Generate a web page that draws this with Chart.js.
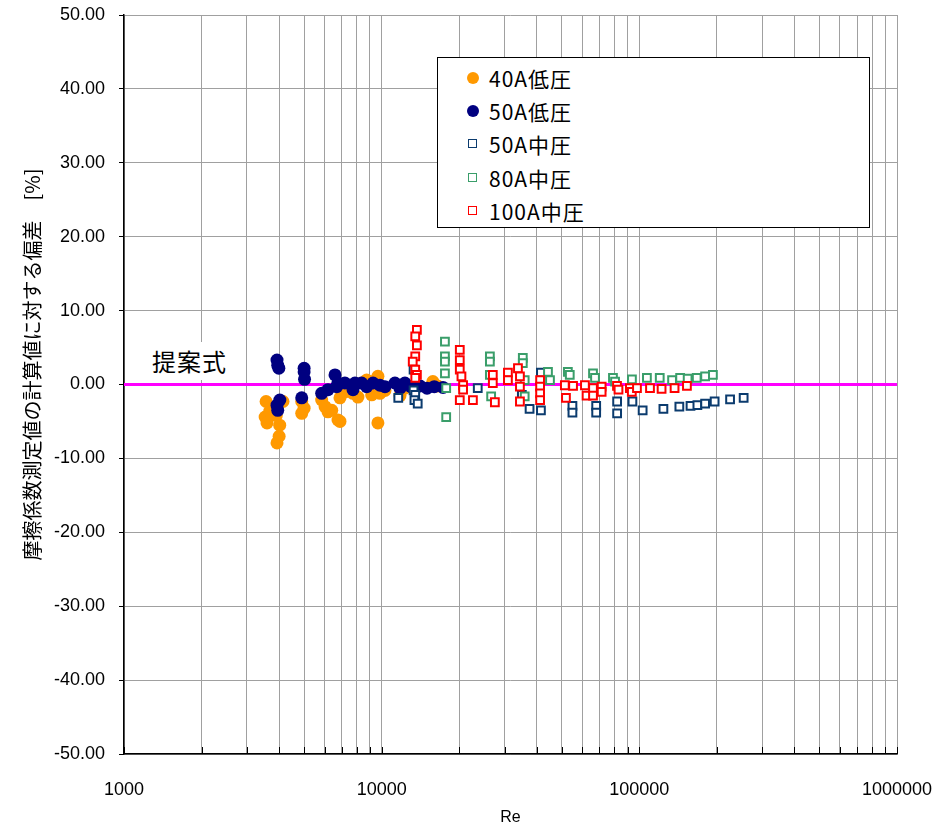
<!DOCTYPE html>
<html lang="ja">
<head>
<meta charset="UTF-8">
<title>摩擦係数測定値の偏差</title>
<script src="https://cdn.jsdelivr.net/npm/chart.js@4.4.1/dist/chart.umd.min.js"></script>
<style>
  html, body { margin: 0; padding: 0; background: #fff; }
  #wrap { position: relative; width: 943px; height: 829px; }
  #legend {
    position: absolute; left: 437px; top: 57px; width: 431px; height: 169px;
    border: 1.5px solid #000; background: #fff;
    font-family: "Noto Sans CJK JP", sans-serif; font-size: 21px; color: #000;
  }
  .row { position: absolute; left: 0; height: 30px; line-height: 30px; width: 100%; }
  .row span.txt { position: absolute; left: 51px; top: 0; letter-spacing: 1px; }
  .dot { position: absolute; left: 29px; top: 9px; width: 12px; height: 12px; border-radius: 50%; }
  .sq { position: absolute; left: 30px; top: 10px; width: 7px; height: 7px; border: 1.5px solid; background: #fff; }
  #formula {
    position: absolute; left: 138px; top: 342px; width: 108px; height: 38px; background: #fff;
    font-family: "Noto Sans CJK JP", sans-serif; font-size: 24px; line-height: 38px; color: #000;
    padding-left: 14px; box-sizing: border-box; letter-spacing: 1px;
  }
</style>
</head>
<body>
<div id="wrap">
  <canvas id="chart" width="943" height="829"></canvas>
  <div id="formula">提案式</div>
  <div id="legend">
    <div class="row" style="top:5px"><i class="dot" style="background:#FF9900"></i><span class="txt">40A低圧</span></div>
    <div class="row" style="top:38px"><i class="dot" style="background:#000080"></i><span class="txt">50A低圧</span></div>
    <div class="row" style="top:71px"><i class="sq" style="border-color:#0B3B6E"></i><span class="txt">50A中圧</span></div>
    <div class="row" style="top:105px"><i class="sq" style="border-color:#3A9E6A"></i><span class="txt">80A中圧</span></div>
    <div class="row" style="top:138px"><i class="sq" style="border-color:#FF0000"></i><span class="txt">100A中圧</span></div>
  </div>
</div>
<script>
// 軸
const xTickLabels = [1000, 10000, 100000, 1000000];
const yMin = -50, yMax = 50, yStep = 10;

// 40A低圧
const re40Low  = [3530, 3560, 3590, 3680, 3900, 3925, 4000, 4020, 4140, 4895, 4895, 5000, 5850, 6030, 6190, 6400, 6770, 6890, 6890, 7200, 7740, 8090, 8360, 8745, 9145, 9260, 9670, 9670, 9850, 10300, 11780, 12300, 13200, 15800, 16500];
const dev40Low = [-4.4, -2.3, -5.2, -3.6, -4.2, -7.9, -7.0, -5.5, -2.3, -2.3, -3.9, -3.2, -2.1, -3.0, -3.7, -3.5, -4.8, -5.0, -1.8, -1.0, -1.2, -1.7, 0.2, 0.6, -1.4, 0.4, 1.1, -5.2, -1.2, -0.8, -1.5, -0.5, -0.3, 0.4, -0.2];

// 50A低圧
const re50Low  = [3925, 3950, 3990, 3925, 3950, 4025, 5000, 5000, 5020, 4895, 5850, 6190, 6590, 6690, 6770, 7200, 7740, 7880, 8360, 8745, 9260, 9850, 10300, 11260, 11780, 12310, 13000, 14100, 15000, 16000, 17300];
const dev50Low = [3.3, 2.6, 2.2, -2.8, -3.5, -2.1, 1.7, 2.2, 0.7, -1.8, -1.2, -0.7, 1.3, -0.3, 0.2, 0.2, -0.7, 0.2, 0.2, -0.3, 0.2, -0.1, -0.3, 0.2, -0.5, 0.2, -0.3, -0.2, -0.5, -0.3, -0.4];

// 50A中圧
const re50Mid  = [11600, 13300, 13300, 13500, 13400, 13800, 23600, 35000, 37500, 41500, 41500, 55000, 55000, 68000, 68000, 82000, 82000, 94000, 103000, 124000, 143000, 158000, 168000, 180000, 196000, 225000, 254000];
const dev50Mid = [-1.8, 2.0, -0.8, -1.4, -2.1, -2.6, -0.5, -1.4, -3.3, 1.6, -3.5, -2.9, -3.8, -2.9, -3.8, -2.3, -3.9, -2.3, -3.5, -3.3, -3.0, -2.9, -2.8, -2.6, -2.3, -2.0, -1.8];

// 80A中圧
const re80Mid  = [17600, 17600, 17600, 17600, 17800, 17800, 26300, 26300, 26300, 26600, 35300, 35300, 35900, 35900, 44200, 45000, 52800, 53700, 66100, 67300, 79000, 80500, 93600, 107000, 120000, 134000, 144000, 154000, 167000, 180000, 193000];
const dev80Mid = [5.8, 3.8, 3.1, 1.5, -0.5, -4.4, 3.8, 3.1, 1.3, -1.6, 3.6, 2.9, 0.6, -1.6, 1.7, 0.6, 1.7, 1.3, 1.5, 0.9, 0.9, 0.4, 0.7, 0.9, 0.9, 0.6, 0.9, 0.8, 0.9, 1.1, 1.3];

// 100A中圧
const re100Mid  = [13700, 13500, 13700, 13500, 13200, 13500, 13700, 13500, 20100, 20100, 20100, 20400, 20700, 20700, 20100, 22600, 27000, 27000, 27500, 30900, 30900, 33800, 34400, 34400, 34400, 41200, 41200, 41200, 41200, 51400, 51900, 55300, 61500, 62400, 66100, 66100, 71400, 71400, 81900, 83000, 91900, 93500, 97900, 110000, 122000, 137000, 153000];
const dev100Mid = [7.4, 6.5, 5.3, 3.8, 3.1, 2.0, 1.3, 0.9, 4.7, 3.3, 2.0, 1.1, -0.1, -0.7, -2.1, -2.1, 1.3, 0.2, -2.4, 1.6, 0.6, 2.2, 1.1, -0.3, -2.3, 0.6, -0.3, -1.2, -2.1, -0.1, -1.8, -0.2, -0.1, -1.5, -0.5, -1.5, -0.3, -1.0, -0.2, -0.7, -0.5, -1.0, -0.5, -0.5, -0.6, -0.5, -0.2];

// 提案式 (偏差 0)
const reFormula  = [1000, 1000000];
const devFormula = [0, 0];

const toPts = (xs, ys) => xs.map((x, i) => ({ x: x, y: ys[i] }));

// 対数軸の目盛線 (1,2,...,9 × 10^n)
const gridRe = [];
for (let i = 0; i < xTickLabels.length - 1; i++) {
    for (let m = 1; m < 10; m++) gridRe.push(m * xTickLabels[i]);
}
gridRe.push(xTickLabels[xTickLabels.length - 1]);

const numFont = { family: 'Liberation Sans, Arial, sans-serif', size: 18 };

// 下軸の内向き目盛
const innerTicks = {
    id: 'innerTicks',
    afterDraw(chart) {
        const { ctx } = chart;
        const xs = chart.scales.x;
        const y0 = chart.chartArea.bottom;
        ctx.save();
        ctx.strokeStyle = '#000';
        ctx.lineWidth = 1;
        xs.ticks.forEach(t => {
            const px = Math.round(xs.getPixelForValue(t.value)) + 0.5;
            ctx.beginPath();
            ctx.moveTo(px, y0);
            ctx.lineTo(px, y0 - 7);
            ctx.stroke();
        });
        ctx.restore();
    }
};

const circle = (label, color, xs, ys, order) => ({
    label, data: toPts(xs, ys), order,
    pointStyle: 'circle', pointRadius: 6.5, pointHoverRadius: 6.5,
    backgroundColor: color, borderColor: color, borderWidth: 0
});
const square = (label, color, xs, ys, order) => ({
    label, data: toPts(xs, ys), order,
    pointStyle: 'rect', pointRadius: 5.5, pointHoverRadius: 5.5,
    backgroundColor: '#fff', borderColor: color, borderWidth: 2
});

new Chart(document.getElementById('chart').getContext('2d'), {
    type: 'scatter',
    data: {
        datasets: [
            circle('40A低圧', '#FF9900', re40Low, dev40Low, 5),
            circle('50A低圧', '#000080', re50Low, dev50Low, 4),
            square('50A中圧', '#0B3B6E', re50Mid, dev50Mid, 3),
            square('80A中圧', '#3A9E6A', re80Mid, dev80Mid, 2),
            square('100A中圧', '#FF0000', re100Mid, dev100Mid, 1),
            {
                label: '提案式', data: toPts(reFormula, devFormula), order: 10,
                showLine: true, borderColor: '#FF00FF', borderWidth: 3,
                pointRadius: 0, pointHoverRadius: 0
            }
        ]
    },
    options: {
        responsive: false,
        animation: false,
        layout: { padding: { top: 15, right: 46, left: 0, bottom: 0 } },
        plugins: { legend: { display: false }, tooltip: { enabled: false } },
        scales: {
            x: {
                type: 'logarithmic',
                min: 1000,
                max: 1000000,
                afterBuildTicks: s => { s.ticks = gridRe.map(v => ({ value: v })); },
                afterFit: s => { s.height = 75; s.paddingLeft = 0; s.paddingRight = 0; },
                grid: { color: '#a0a0a0', lineWidth: 1, drawTicks: false },
                border: { color: '#000', width: 1.5 },
                ticks: {
                    autoSkip: false, maxRotation: 0, minRotation: 0, padding: 25,
                    color: '#000', font: numFont,
                    callback: v => xTickLabels.includes(v) ? String(v) : ''
                },
                title: {
                    display: true, text: 'Re', color: '#000',
                    font: { family: 'Liberation Sans, Arial, sans-serif', size: 16 },
                    padding: { top: 0, bottom: 2 }
                }
            },
            y: {
                min: yMin,
                max: yMax,
                afterFit: s => { s.width = 124; s.paddingTop = 0; s.paddingBottom = 0; },
                grid: { color: '#a0a0a0', lineWidth: 1, tickColor: '#000', tickLength: 5 },
                border: { color: '#000', width: 1.5 },
                ticks: {
                    stepSize: yStep, padding: 14, color: '#000', font: numFont,
                    callback: v => v.toFixed(2)
                },
                title: {
                    display: true, text: '　　摩擦係数測定値の計算値に対する偏差　[%]', color: '#000',
                    font: { family: 'Noto Sans CJK JP, sans-serif', size: 20 },
                    padding: { top: 20, bottom: 0 }
                }
            }
        }
    },
    plugins: [innerTicks]
});
</script>
</body>
</html>
